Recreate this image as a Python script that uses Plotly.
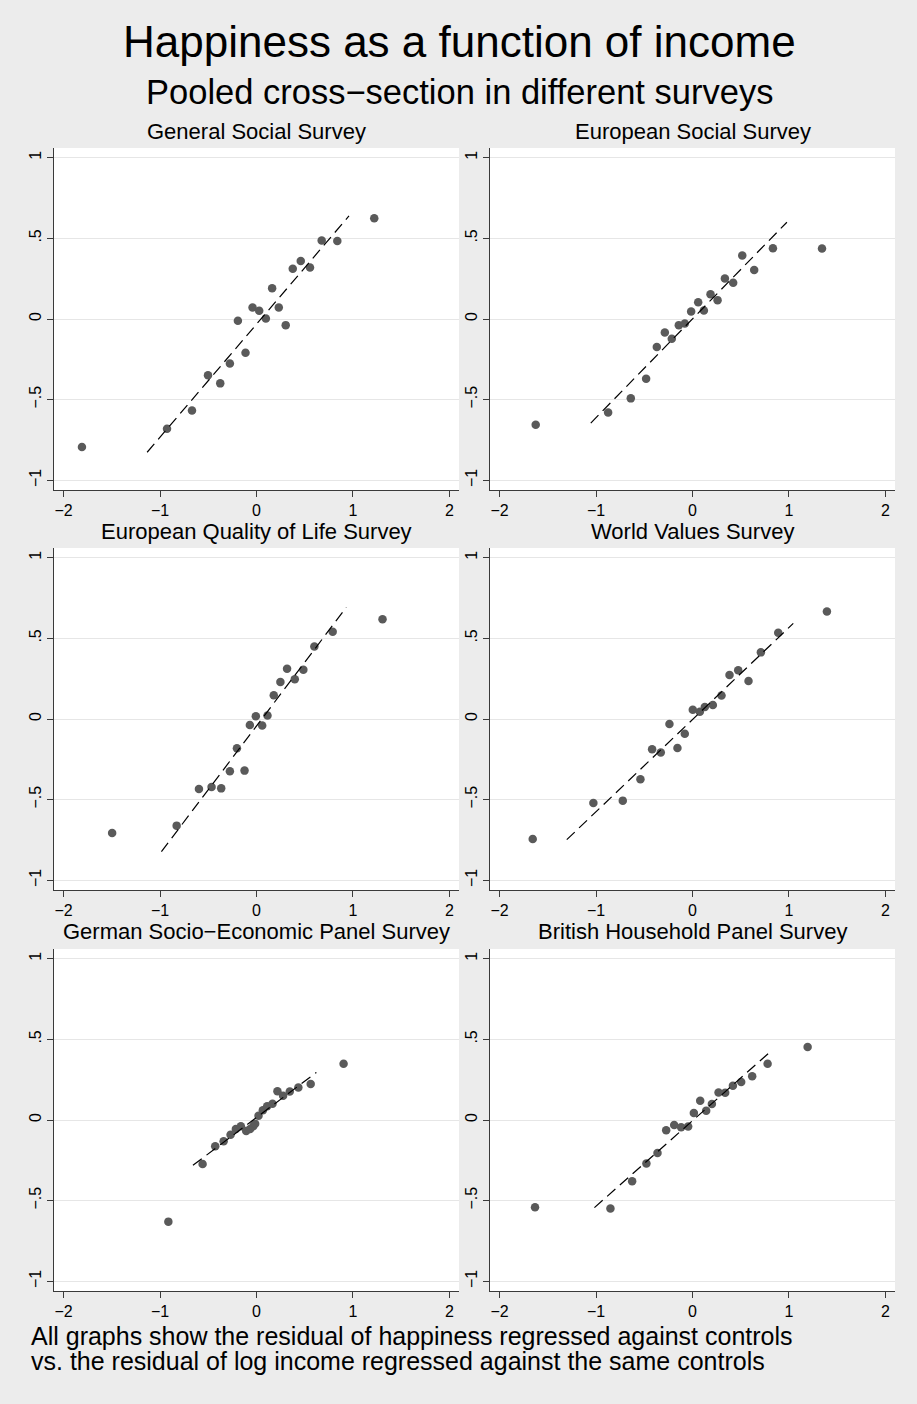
import plotly.graph_objects as go

W, H = 917, 1404

# ---------------- data ----------------
titles = [
    "General Social Survey",
    "European Social Survey",
    "European Quality of Life Survey",
    "World Values Survey",
    "German Socio\u2212Economic Panel Survey",
    "British Household Panel Survey",
]

gss_x = [-1.81, -0.928, -0.669, -0.503, -0.376, -0.276, -0.193, -0.114, -0.041, 0.028,
         0.097, 0.162, 0.231, 0.303, 0.376, 0.459, 0.555, 0.676, 0.838, 1.221]
gss_y = [-0.794, -0.680, -0.567, -0.348, -0.399, -0.276, -0.011, -0.209, 0.071, 0.051,
         0.003, 0.191, 0.071, -0.038, 0.311, 0.360, 0.319, 0.486, 0.484, 0.624]
gss_fit_x = [-1.134, 0.959]
gss_fit_y = [-0.826, 0.639]

ess_x = [-1.626, -0.875, -0.640, -0.481, -0.370, -0.287, -0.215, -0.142, -0.080, -0.014,
         0.059, 0.118, 0.187, 0.260, 0.336, 0.422, 0.516, 0.640, 0.834, 1.343]
ess_y = [-0.655, -0.579, -0.492, -0.370, -0.174, -0.084, -0.123, -0.038, -0.028, 0.046,
         0.104, 0.053, 0.154, 0.117, 0.251, 0.224, 0.393, 0.304, 0.439, 0.437]
ess_fit_x = [-1.055, 0.979]
ess_fit_y = [-0.645, 0.600]

eqls_x = [-1.497, -0.828, -0.597, -0.466, -0.366, -0.276, -0.203, -0.124, -0.069, -0.007,
          0.059, 0.114, 0.179, 0.248, 0.317, 0.397, 0.486, 0.600, 0.790, 1.307]
eqls_y = [-0.707, -0.661, -0.434, -0.421, -0.430, -0.324, -0.182, -0.320, -0.037, 0.017,
          -0.041, 0.021, 0.147, 0.229, 0.312, 0.246, 0.306, 0.450, 0.541, 0.618]
eqls_fit_x = [-0.986, 0.931]
eqls_fit_y = [-0.822, 0.692]

wvs_x = [-1.657, -1.028, -0.723, -0.540, -0.419, -0.329, -0.239, -0.156, -0.080, 0.003,
         0.076, 0.128, 0.211, 0.301, 0.384, 0.474, 0.581, 0.709, 0.889, 1.394]
wvs_y = [-0.744, -0.521, -0.506, -0.374, -0.188, -0.207, -0.031, -0.180, -0.091, 0.058,
         0.045, 0.074, 0.087, 0.145, 0.273, 0.302, 0.236, 0.413, 0.535, 0.667]
wvs_fit_x = [-1.304, 1.045]
wvs_fit_y = [-0.748, 0.593]

gsoep_x = [-0.914, -0.559, -0.428, -0.341, -0.269, -0.214, -0.162, -0.107, -0.066, -0.034,
           -0.014, 0.021, 0.066, 0.110, 0.166, 0.217, 0.276, 0.345, 0.434, 0.562, 0.903]
gsoep_y = [-0.630, -0.273, -0.163, -0.132, -0.091, -0.056, -0.039, -0.068, -0.056, -0.039,
           -0.023, 0.027, 0.060, 0.085, 0.101, 0.178, 0.151, 0.176, 0.202, 0.223, 0.349]
gsoep_fit_x = [-0.659, 0.621]
gsoep_fit_y = [-0.281, 0.295]

bhps_x = [-1.633, -0.851, -0.626, -0.478, -0.363, -0.273, -0.190, -0.118, -0.045, 0.014,
          0.080, 0.142, 0.201, 0.270, 0.339, 0.419, 0.505, 0.619, 0.779, 1.194]
bhps_y = [-0.541, -0.548, -0.380, -0.269, -0.205, -0.064, -0.031, -0.045, -0.041, 0.043,
          0.120, 0.058, 0.099, 0.171, 0.169, 0.213, 0.236, 0.271, 0.349, 0.452]
bhps_fit_x = [-1.017, 0.824]
bhps_fit_y = [-0.543, 0.432]

x_tickvals = [-2, -1, 0, 1, 2]
x_ticktext = ["\u22122", "\u22121", "0", "1", "2"]
y_tickvals = [-1, -0.5, 0, 0.5, 1]
y_ticktext = ["\u22121", "\u2212.5", "0", ".5", "1"]

main_title = "Happiness as a function of income"
sub_title = "Pooled cross\u2212section in different surveys"
note_1 = "All graphs show the residual of happiness regressed against controls"
note_2 = "vs. the residual of log income regressed against the same controls"

# ---------------- layout ----------------
FONT = "Liberation Sans, Arial, Helvetica, sans-serif"
BG = "#ececec"
MARKER = "#5a5a5a"
AXIS = "#3a3a3a"

series = [
    (gss_x, gss_y, gss_fit_x, gss_fit_y),
    (ess_x, ess_y, ess_fit_x, ess_fit_y),
    (eqls_x, eqls_y, eqls_fit_x, eqls_fit_y),
    (wvs_x, wvs_y, wvs_fit_x, wvs_fit_y),
    (gsoep_x, gsoep_y, gsoep_fit_x, gsoep_fit_y),
    (bhps_x, bhps_y, bhps_fit_x, bhps_fit_y),
]

col_px = [(54, 459), (490, 895)]
row_px = [(148, 490), (548, 890), (949, 1291)]
title_mid_px = [131, 531, 931]


def px_x(p):
    return p / W


def px_y(p):
    return 1 - p / H


fig = go.Figure()
annotations = []
layout_axes = {}

for i, (xs, ys, fx, fy) in enumerate(series):
    r, c = divmod(i, 2)
    n = i + 1
    xa = "x" if n == 1 else f"x{n}"
    ya = "y" if n == 1 else f"y{n}"
    fig.add_trace(go.Scatter(
        x=xs, y=ys, mode="markers", xaxis=xa, yaxis=ya,
        marker=dict(size=8.5, color=MARKER, line=dict(width=0)),
        showlegend=False, hoverinfo="x+y"))
    fig.add_trace(go.Scatter(
        x=fx, y=fy, mode="lines", xaxis=xa, yaxis=ya,
        line=dict(color="black", width=1.2, dash="11px,6px"),
        showlegend=False, hoverinfo="skip"))

    x0, x1 = col_px[c]
    y0, y1 = row_px[r]
    layout_axes["xaxis" if n == 1 else f"xaxis{n}"] = dict(
        domain=[px_x(x0), px_x(x1)], anchor=ya, range=[-2.1, 2.1],
        tickvals=x_tickvals, ticktext=x_ticktext, showgrid=False, zeroline=False,
        showline=True, linecolor=AXIS, linewidth=1, ticks="outside", ticklen=6,
        tickcolor=AXIS, tickfont=dict(family=FONT, size=16, color="black"),
        fixedrange=True)
    layout_axes["yaxis" if n == 1 else f"yaxis{n}"] = dict(
        domain=[px_y(y1), px_y(y0)], anchor=xa, range=[-1.06, 1.06],
        tickvals=y_tickvals, ticktext=y_ticktext, tickangle=-90, showgrid=True,
        gridcolor="#e6e6e6", gridwidth=1, zeroline=False, showline=True,
        linecolor=AXIS, linewidth=1, ticks="outside", ticklen=6,
        tickcolor=AXIS, tickfont=dict(family=FONT, size=16, color="black"),
        fixedrange=True)
    annotations.append(dict(
        text=titles[i], x=px_x((x0 + x1) / 2), y=px_y(title_mid_px[r]),
        xref="paper", yref="paper", xanchor="center", yanchor="middle",
        showarrow=False, font=dict(family=FONT, size=22, color="black")))

annotations += [
    dict(text=main_title, x=px_x(459), y=px_y(41), xref="paper", yref="paper",
         xanchor="center", yanchor="middle", showarrow=False,
         font=dict(family=FONT, size=44, color="black")),
    dict(text=sub_title, x=px_x(459), y=px_y(92), xref="paper", yref="paper",
         xanchor="center", yanchor="middle", showarrow=False,
         font=dict(family=FONT, size=34.5, color="black")),
    dict(text=note_1, x=px_x(29), y=px_y(1336), xref="paper", yref="paper",
         xanchor="left", yanchor="middle", showarrow=False,
         font=dict(family=FONT, size=25, color="black")),
    dict(text=note_2, x=px_x(29), y=px_y(1361), xref="paper", yref="paper",
         xanchor="left", yanchor="middle", showarrow=False,
         font=dict(family=FONT, size=25, color="black")),
]

fig.update_layout(
    width=W, height=H,
    margin=dict(l=0, r=0, t=0, b=0),
    paper_bgcolor=BG, plot_bgcolor="white",
    annotations=annotations,
    showlegend=False,
    **layout_axes,
)

fig.write_html(
    "out.html",
    config={"displayModeBar": False},
    post_script="document.body.style.margin='0';document.body.style.overflow='hidden';",
)
